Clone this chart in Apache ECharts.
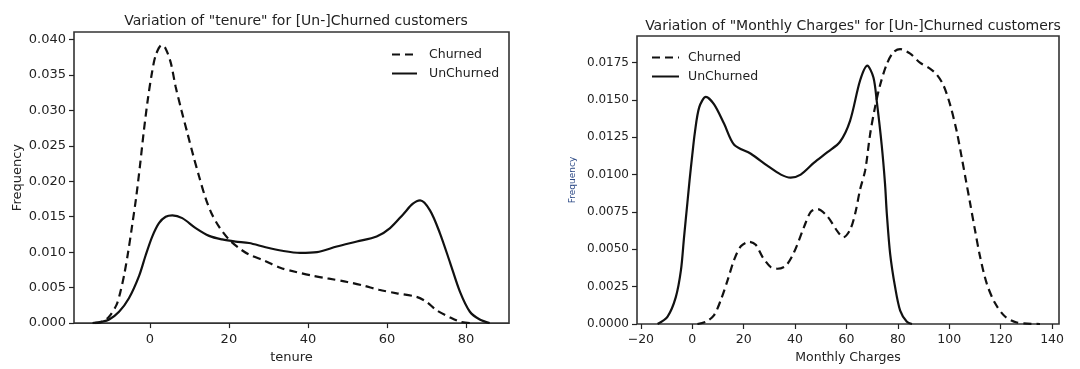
<!DOCTYPE html>
<html>
<head>
<meta charset="utf-8">
<script src="https://cdn.jsdelivr.net/npm/echarts@6/dist/echarts.min.js"></script>
<style>
html,body{margin:0;padding:0;background:#fff;}
#chart{width:1080px;height:369px;}
</style>
</head>
<body>
<div id="chart"></div>
<script>
// ---- data ----
const titles = ['Variation of "tenure" for [Un-]Churned customers', 'Variation of "Monthly Charges" for [Un-]Churned customers'];
const seriesNames = ['Churned', 'UnChurned'];
const xNames = ['tenure', 'Monthly Charges'];
const yName = 'Frequency';

const tenureXTicks = [0, 20, 40, 60, 80];
const tenureYTicks = [0, 0.005, 0.010, 0.015, 0.020, 0.025, 0.030, 0.035, 0.040];
const chargesXTicks = [-20, 0, 20, 40, 60, 80, 100, 120, 140];
const chargesYTicks = [0, 0.0025, 0.0050, 0.0075, 0.0100, 0.0125, 0.0150, 0.0175];

const tenureChurned = [[-14,0],[-12.5,0.0001],[-10.5,0.0008],[-8.5,0.0025],[-7.5,0.0043],[-6.5,0.0068],[-5.5,0.0100],[-4.5,0.0137],[-3.5,0.0176],[-2.5,0.0222],[-1.5,0.0272],[-0.5,0.0316],[0.5,0.0352],[1.5,0.0378],[3,0.0392],[4,0.0387],[5.3,0.0367],[6.5,0.0334],[8,0.0300],[9.5,0.0268],[11,0.0236],[12.5,0.0206],[14,0.0178],[15.5,0.0156],[17.5,0.0136],[20,0.0118],[22.5,0.0106],[25,0.0097],[29,0.0088],[33,0.0078],[37,0.0072],[41,0.0067],[45,0.0063],[50,0.0058],[54,0.0053],[58,0.0047],[62.5,0.0042],[67.5,0.0037],[70,0.0030],[72.6,0.0018],[76,0.0008],[78.5,0.0002],[81,0]];
const tenureUnchurned = [[-14.5,0],[-12,0.0002],[-10.3,0.0005],[-7.8,0.0016],[-5.3,0.0035],[-2.7,0.0067],[-1.1,0.0095],[0.6,0.0122],[2.3,0.0141],[4,0.0150],[5.7,0.0152],[8.2,0.0148],[11.6,0.0134],[15,0.0123],[18.3,0.0118],[21.7,0.0115],[25.1,0.0113],[29.3,0.0107],[33.5,0.0102],[38,0.0099],[42.3,0.0100],[47.3,0.0108],[52.4,0.0115],[57.4,0.0122],[60.8,0.0134],[64.2,0.0154],[66.5,0.0168],[68.4,0.0173],[70.9,0.0159],[73.4,0.0127],[76,0.0085],[78.5,0.0044],[81,0.0016],[83.5,0.0005],[86,0]];
const chargesChurned = [[2,0],[5.3,0.00015],[8.5,0.0006],[11.1,0.0016],[13.7,0.0029],[16.3,0.0043],[18.9,0.0052],[22.1,0.0055],[24.7,0.0053],[27.3,0.0045],[30.6,0.0038],[33.1,0.0037],[36.4,0.0039],[39.6,0.0048],[43.5,0.0065],[46.1,0.0075],[48.7,0.0077],[52.6,0.0072],[56.5,0.0062],[58.8,0.0058],[61.4,0.0063],[63.4,0.0074],[65.3,0.0090],[67.3,0.0103],[69.2,0.0127],[71.1,0.0145],[73.1,0.0160],[75.7,0.0174],[78.3,0.0182],[80.9,0.0184],[84.8,0.0181],[88.6,0.0175],[92.5,0.0171],[95.1,0.0167],[97.7,0.0160],[100.3,0.0147],[102.9,0.0129],[104.9,0.0111],[106.5,0.0096],[108.1,0.0081],[110,0.0063],[112,0.0045],[114.6,0.0027],[117.8,0.0014],[121.7,0.0005],[126.3,0.0001],[135.3,0]];
const chargesUnchurned = [[-13.5,0],[-9.6,0.0005],[-6.4,0.0018],[-4.4,0.0036],[-3.2,0.0058],[-1.9,0.0081],[-1,0.0097],[0,0.0113],[1,0.0128],[2.7,0.0145],[5.3,0.0152],[8.5,0.0147],[12.4,0.0134],[16.3,0.0120],[22.8,0.0114],[29.2,0.0106],[34.5,0.0100],[38.3,0.0098],[42.2,0.0100],[47.4,0.0108],[52.6,0.0115],[57.5,0.0122],[61.4,0.0136],[65.3,0.0163],[68.1,0.0173],[70.5,0.0165],[71.8,0.0149],[73.7,0.0120],[75,0.0094],[75.7,0.0074],[77,0.0047],[78.9,0.0025],[80.9,0.0009],[83.5,0.00015],[85.5,0]];

// ---- chart ----
const FONT = 'DejaVu Sans';
const TXT = '#222';
const chart = echarts.init(document.getElementById('chart'), null, {renderer: 'canvas'});
const minus = v => String(v).replace('-', '\u2212');

function xAxis(gi, min, max, ticks, name, fs, gap, labelMargin) {
  return {
    type: 'value', gridIndex: gi, min: min, max: max,
    name: name, nameLocation: 'middle', nameGap: gap,
    nameTextStyle: {fontFamily: FONT, fontSize: fs, color: TXT},
    axisLine: {show: false, onZero: false},
    axisTick: {show: true, length: 5, lineStyle: {color: '#222', width: 1.2}, customValues: ticks},
    axisLabel: {fontFamily: FONT, fontSize: fs, color: TXT, margin: labelMargin, customValues: ticks, formatter: v => minus(v)},
    splitLine: {show: false}
  };
}
function yAxis(gi, max, ticks, digits, fs, nameFs, nameGap, nameColor) {
  return {
    type: 'value', gridIndex: gi, min: 0, max: max,
    name: yName, nameLocation: 'middle', nameGap: nameGap, nameRotate: 90,
    nameTextStyle: {fontFamily: FONT, fontSize: nameFs, color: nameColor},
    axisLine: {show: false, onZero: false},
    axisTick: {show: true, length: 5, lineStyle: {color: '#222', width: 1.2}, customValues: ticks},
    axisLabel: {fontFamily: FONT, fontSize: fs, color: TXT, margin: 8, customValues: ticks, formatter: v => v.toFixed(digits)},
    splitLine: {show: false}
  };
}
function line(name, data, gi, dashed) {
  return {
    type: 'line', name: name, xAxisIndex: gi, yAxisIndex: gi,
    data: data, smooth: 0.3, symbol: 'none', showSymbol: false,
    lineStyle: {color: '#111', width: 2.2, type: dashed ? [8, 5] : 'solid'},
    itemStyle: {color: '#111'},
    animation: false
  };
}
const legendCommon = {
  orient: 'vertical', itemHeight: 14, itemGap: 6, selectedMode: false,
  itemStyle: {color: 'rgba(0,0,0,0)', borderColor: 'rgba(0,0,0,0)', borderWidth: 0},
  data: seriesNames
};

const option = {
  backgroundColor: '#fff',
  animation: false,
  title: [
    {text: titles[0], left: 291, top: 9, textAlign: 'center', textStyle: {fontFamily: FONT, fontSize: 14, fontWeight: 'normal', color: TXT}},
    {text: titles[1], left: 848, top: 14, textAlign: 'center', textStyle: {fontFamily: FONT, fontSize: 14, fontWeight: 'normal', color: TXT}}
  ],
  legend: [
    Object.assign({}, legendCommon, {left: 386, top: 43, itemWidth: 25,
      textStyle: {fontFamily: FONT, fontSize: 12.5, color: TXT, padding: [0, 0, 0, 7]}}),
    Object.assign({}, legendCommon, {left: 646, top: 46, itemWidth: 27,
      textStyle: {fontFamily: FONT, fontSize: 12.5, color: TXT, padding: [0, 0, 0, 4]}})
  ],
  grid: [
    {left: 74, top: 32, width: 435, height: 296, show: true, borderColor: '#333', borderWidth: 1.6, backgroundColor: 'transparent'},
    {left: 637, top: 36, width: 422, height: 288, show: true, borderColor: '#333', borderWidth: 1.6, backgroundColor: 'transparent'}
  ],
  xAxis: [
    xAxis(0, -19.2, 90.9, tenureXTicks, xNames[0], 13, 27, 10),
    xAxis(1, -21.5, 142.7, chargesXTicks, xNames[1], 12.5, 27, 9)
  ],
  yAxis: [
    yAxis(0, 0.04105, tenureYTicks, 3, 13, 13, 50, TXT),
    yAxis(1, 0.01928, chargesYTicks, 4, 12, 9, 60, '#2d4a86')
  ],
  series: [
    line(seriesNames[0], tenureChurned, 0, true),
    line(seriesNames[1], tenureUnchurned, 0, false),
    line(seriesNames[0], chargesChurned, 1, true),
    line(seriesNames[1], chargesUnchurned, 1, false)
  ]
};
chart.setOption(option);
</script>
</body>
</html>
